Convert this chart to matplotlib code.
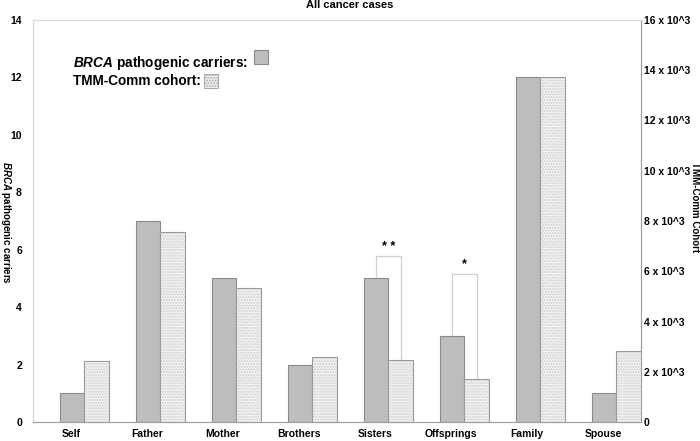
import numpy as np
import matplotlib.pyplot as plt
from matplotlib.patches import Rectangle

plt.rcParams['font.family'] = ['Liberation Sans', 'DejaVu Sans']
plt.rcParams['font.weight'] = 'bold'
plt.rcParams['mathtext.fontset'] = 'custom'
plt.rcParams['mathtext.bfit'] = 'Liberation Sans:italic:bold'
plt.rcParams['mathtext.rm'] = 'Liberation Sans:bold'

# Dados
categorias = ['Self', 'Father', 'Mother', 'Brothers', 'Sisters', 'Offsprings', 'Family', 'Spouse']
brca = [1, 7, 5, 2, 5, 3, 12, 1]
tmm = [2440, 7550, 5350, 2600, 2450, 1710, 13720, 2830]
ticks_dir = [0, 2000, 4000, 6000, 8000, 10000, 12000, 14000, 16000]
labels_dir = ['0'] + ['%d x 10^3' % (t // 1000) for t in ticks_dir[1:]]
# colchetes de significância: (índice, topo em unidades BRCA, texto)
sig = [(4, 5.78, '* *'), (5, 5.16, '*')]

fig = plt.figure(figsize=(7, 4.41), dpi=100)
ax = fig.add_axes([33/700, 19/441, 608/700, 402/441])
ax2 = ax.twinx()

x = np.arange(len(categorias))
w1 = 0.32
w2 = 0.325
x1 = x + 0.355
x2 = x1 + w1

ax.bar(x1, brca, width=w1, align='edge', color='#bdbdbd', edgecolor='#8a8a8a', linewidth=0.8, zorder=3)
ax2.bar(x2, tmm, width=w2, align='edge', color='#f3f3f3', edgecolor='#d0d0d0', hatch='......', linewidth=0, zorder=3)
ax2.bar(x2, tmm, width=w2, align='edge', fill=False, edgecolor='#9a9a9a', linewidth=0.8, zorder=4)

# colchetes
esc = 16000 / 14
for i, topo, txt in sig:
    xa = x1[i] + w1 / 2
    xb = x2[i] + w2 / 2
    ax.plot([xa, xa, xb, xb], [brca[i], topo, topo, tmm[i] / esc], color='#d0d0d0', lw=0.9, zorder=2)
    ax.text((xa + xb) / 2, topo + 0.12, txt, ha='center', va='bottom', fontsize=9, fontweight='bold')

ax.set_xlim(0, 8)
ax.set_ylim(0, 14)
ax2.set_ylim(0, 16000)
ax.set_xticks(x + 0.5)
ax.set_xticklabels(categorias, fontsize=7.5, fontweight='bold')
ax.set_yticks(np.arange(0, 15, 2))
ax.tick_params(axis='y', length=0, pad=8, labelsize=7.5)
ax.tick_params(axis='x', length=0, pad=5)
ax2.set_yticks(ticks_dir)
ax2.set_yticklabels(labels_dir)
ax2.tick_params(axis='y', length=0, pad=2, labelsize=7.5)

for a in (ax, ax2):
    a.spines['top'].set_color('#d8d8d8')
    a.spines['left'].set_color('#d8d8d8')
    a.spines['right'].set_color('#a0a0a0')
    a.spines['bottom'].set_color('#a0a0a0')

fig.text(350/700, 1 - 5/441, 'All cancer cases', ha='center', va='center', fontsize=8, fontweight='bold')
fig.text(6/700, 1 - 222/441, r'$\mathbfit{BRCA}$ pathogenic carriers', rotation=-90, ha='center', va='center', fontsize=7)
fig.text(695/700, 1 - 207/441, 'TMM-Comm Cohort', rotation=-90, ha='center', va='center', fontsize=7, fontweight='bold')

# legenda manual
ax.text(0.066, 0.893, r'$\mathbfit{BRCA}$ pathogenic carriers:', transform=ax.transAxes, ha='left', va='center', fontsize=9.8)
ax.add_patch(Rectangle((0.3635, 0.891), 0.023, 0.034, transform=ax.transAxes, facecolor='#bdbdbd', edgecolor='#8a8a8a', lw=0.8, zorder=5))
ax.text(0.066, 0.848, 'TMM-Comm cohort:', transform=ax.transAxes, ha='left', va='center', fontsize=9.8)
ax.add_patch(Rectangle((0.281, 0.831), 0.023, 0.034, transform=ax.transAxes, facecolor='#f3f3f3', edgecolor='#aaaaaa', hatch='......', lw=0.8, zorder=5))

fig.savefig('out.png', dpi=100)
